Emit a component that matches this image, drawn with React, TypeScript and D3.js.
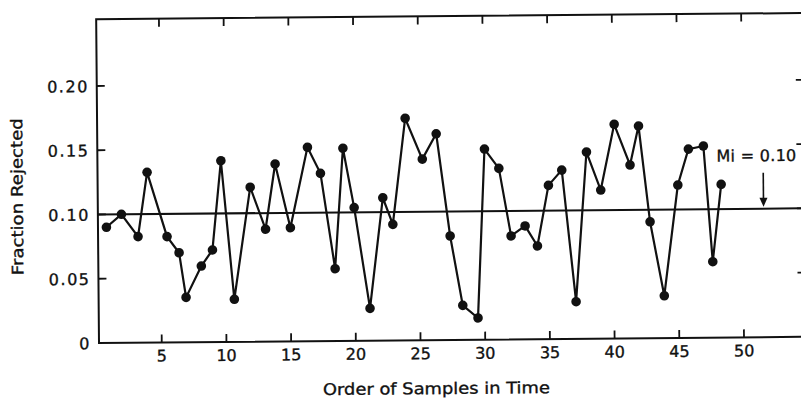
import React from "react";
import * as d3 from "d3";

// Sample order position (as plotted) and fraction rejected
const sampleX: number[] = [
  0.8, 1.97, 3.24, 3.98, 5.48, 6.4, 6.91, 8.11, 8.98, 9.69, 10.64, 11.94, 13.1,
  13.88, 15.02, 16.39, 17.38, 18.45, 19.13, 19.96, 21.12, 22.18, 22.94, 23.96,
  25.26, 26.35, 27.36, 28.29, 29.46, 30.07, 31.17, 32.07, 33.16, 34.1, 34.99,
  36.03, 37.05, 37.95, 39.03, 40.11, 41.31, 41.99, 42.82, 43.87, 44.99, 45.83,
  46.99, 47.64, 48.34,
];
const fractionRejected: number[] = [
  0.09, 0.1, 0.0825, 0.1325, 0.0823, 0.0697, 0.0349, 0.0592, 0.0716, 0.141,
  0.0331, 0.1202, 0.0874, 0.1381, 0.0884, 0.1509, 0.1305, 0.0562, 0.1499,
  0.1036, 0.0251, 0.1111, 0.0903, 0.1728, 0.1409, 0.1605, 0.0809, 0.0268,
  0.0169, 0.1483, 0.1332, 0.0805, 0.0882, 0.0725, 0.1196, 0.1314, 0.0289,
  0.1453, 0.1156, 0.1667, 0.1349, 0.1652, 0.0906, 0.0329, 0.119, 0.1469,
  0.1492, 0.0591, 0.1192,
];
const xTicks: number[] = [5, 10, 15, 20, 25, 30, 35, 40, 45, 50];
const yTicks: number[] = [0, 0.05, 0.1, 0.15, 0.2];
const yTickLabels: string[] = ["0", "0.05", "0.10", "0.15", "0.20"];
const meanLevel = 0.1;
const meanLabel = "Mi = 0.10";
const arrowX = 51.6;
const xTitle = "Order of Samples in Time";
const yTitle = "Fraction Rejected";

const xFrame: [number, number] = [0.15, 54.8];
const yFrameTop = 0.252;

export default function App() {
  const x = d3.scaleLinear().domain([0.15, 50]).range([99, 744]);
  const y = d3.scaleLinear().domain([0, 0.2]).range([343, 86]);
  const L = x(xFrame[0]);
  const R = x(xFrame[1]);
  const B = y(0);
  const T = y(yFrameTop);
  const pts = sampleX.map((v, i) => [v, fractionRejected[i]] as [number, number]);
  const line = d3
    .line<[number, number]>()
    .x((d) => x(d[0]))
    .y((d) => y(d[1]));
  const tl = 8;
  const ink = "#111";
  const font = "'DejaVu Sans', sans-serif";
  const textStroke = { stroke: ink, strokeWidth: 0.35 };
  const ax = x(arrowX);
  const arrowTop = y(0.128);
  const arrowTip = y(0.1015);

  return (
    <svg
      width={801}
      height={399}
      style={{ position: "absolute", left: 0, top: 0, background: "#fff" }}
    >
      <rect x={0} y={0} width={801} height={399} fill="#fff" />
      <g transform={`rotate(-0.5, ${L}, ${B})`}>
        {/* frame */}
        <path
          d={`M${R},${T} L${L},${T} L${L},${B} L${R},${B} Z`}
          fill="none"
          stroke={ink}
          strokeWidth={2}
        />
        {/* x ticks bottom and top */}
        {xTicks.map((t) => (
          <g key={"xt" + t}>
            <line x1={x(t)} x2={x(t)} y1={B} y2={B - tl} stroke={ink} strokeWidth={1.8} />
            <line x1={x(t)} x2={x(t)} y1={T} y2={T + tl} stroke={ink} strokeWidth={1.8} />
            <text
              x={x(t)}
              y={B + 19}
              textAnchor="middle"
              fontFamily={font}
              fontSize={16}
              fill={ink}
              {...textStroke}
            >
              {t}
            </text>
          </g>
        ))}
        {/* y ticks left and right */}
        {yTicks.map((t, i) => (
          <g key={"yt" + t}>
            {t > 0 && (
              <>
                <line x1={L} x2={L + tl} y1={y(t)} y2={y(t)} stroke={ink} strokeWidth={1.8} />
                <line x1={R} x2={R - tl} y1={y(t)} y2={y(t)} stroke={ink} strokeWidth={1.8} />
              </>
            )}
            <text
              x={91}
              y={y(t) + 6}
              textAnchor="end"
              fontFamily={font}
              fontSize={16}
              letterSpacing={1.5}
              fill={ink}
              {...textStroke}
            >
              {yTickLabels[i]}
            </text>
          </g>
        ))}
        {/* mean line */}
        <line x1={L} x2={R} y1={y(meanLevel)} y2={y(meanLevel)} stroke={ink} strokeWidth={2} />
        {/* data */}
        <path d={line(pts) || ""} fill="none" stroke={ink} strokeWidth={2.2} strokeLinejoin="miter" />
        {pts.map((d, i) => (
          <circle key={i} cx={x(d[0])} cy={y(d[1])} r={4.8} fill={ink} />
        ))}
        {/* mean annotation */}
        <text
          x={718}
          y={y(0.137)}
          fontFamily={font}
          fontSize={16}
          fill={ink}
          letterSpacing={0.3}
          {...textStroke}
        >
          {meanLabel}
        </text>
        <line x1={ax} x2={ax} y1={arrowTop} y2={arrowTip - 6} stroke={ink} strokeWidth={1.6} />
        <path
          d={`M${ax - 4},${arrowTip - 9} L${ax + 4},${arrowTip - 9} L${ax},${arrowTip} Z`}
          fill={ink}
        />
        {/* titles */}
        <text
          x={436}
          y={397}
          textAnchor="middle"
          fontFamily={font}
          fontSize={16}
          textLength={227}
          lengthAdjust="spacingAndGlyphs"
          fill={ink}
          {...textStroke}
        >
          {xTitle}
        </text>
        <text
          transform={`translate(24, 196) rotate(-90)`}
          textAnchor="middle"
          fontFamily={font}
          fontSize={16}
          textLength={157}
          lengthAdjust="spacingAndGlyphs"
          fill={ink}
          {...textStroke}
        >
          {yTitle}
        </text>
      </g>
    </svg>
  );
}
